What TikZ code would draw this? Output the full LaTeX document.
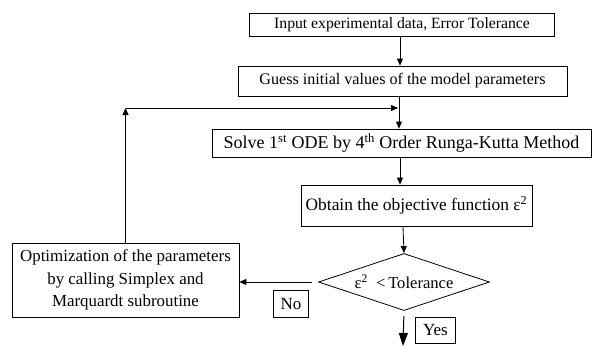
\documentclass[tikz,border=0pt]{standalone}
\usepackage{fontspec}
\setmainfont{Liberation Serif}
\usetikzlibrary{arrows.meta,shapes.geometric}
\newcommand{\fs}[1]{\fontsize{#1}{#1}\selectfont}
\begin{document}
\begin{tikzpicture}[x=1pt,y=-1pt,
  box/.style={draw,line width=0.8pt,inner sep=0pt},
  tag/.style={draw,line width=0.8pt,inner sep=0pt,font=\fs{17}},
  flow/.style={line width=0.8pt,-{Triangle[length=7pt,width=6pt]}},
  bigflow/.style={line width=1pt,-{Triangle[length=13pt,width=9pt]}}]
\useasboundingbox (0,0) rectangle (592,346);
% process boxes
\node[box,font=\fs{15.7},minimum width=305pt,minimum height=23pt] (inp) at (402,24.5) {Input experimental data, Error Tolerance};
\node[box,font=\fs{16.1},minimum width=329pt,minimum height=30pt] (guess) at (402.5,81) {Guess initial values of the model parameters};
\node[box,font=\fs{18},minimum width=379pt,minimum height=28pt] (ode) at (401.5,143) {Solve 1\textsuperscript{st} ODE by 4\textsuperscript{th} Order Runga-Kutta Method};
\node[box,font=\fs{17.4},minimum width=231pt,minimum height=41pt] (obj) at (416.5,205.5) {Obtain the objective function ε\textsuperscript{2}};
\node[diamond,draw,line width=0.8pt,minimum width=171pt,minimum height=57pt,inner sep=0pt,aspect=3,font=\fs{16.6}] (test) at (404,282) {ε\textsuperscript{2}\ \ <\,Tolerance};
\node[box,font=\fontsize{16.9}{22.5}\selectfont,minimum width=227pt,minimum height=74pt,align=center] (opt) at (125.5,280) {Optimization of the parameters\\by calling Simplex and\\Marquardt subroutine};
% branch labels
\node[tag,minimum width=35pt,minimum height=27pt,anchor=north west] (no) at (273,290) {No};
\node[tag,minimum width=40pt,minimum height=26pt,anchor=north west] (yes) at (415,317) {Yes};
% connectors
\coordinate (join) at (ode.north |- 0,108);
\coordinate (corner) at (opt.north |- 0,108);
\coordinate (out) at (403,346);
\draw[flow] (inp.south -| 400,0) -- (guess.north -| 400,0);
\draw[flow] (guess.south -| 399,0) -- (ode.north -| 399,0);
\draw[flow] (ode.south -| 400,0) -- (obj.north -| 400,0);
\draw[flow] (obj.south -| 403,0) -- (test.north);
\draw[flow] (opt.north) -- (corner);
\draw[flow] (corner) -- (join -| 398,0);
\draw[flow,shorten <=6pt] (test.west) -- (opt.east |- test.west);
\draw[bigflow,shorten <=5pt] (test.south) -- (out);
\end{tikzpicture}
\end{document}
